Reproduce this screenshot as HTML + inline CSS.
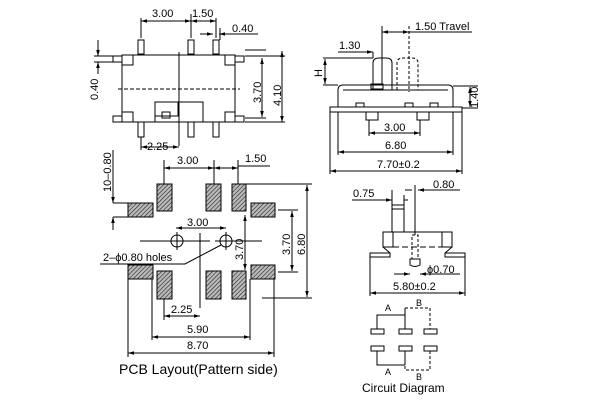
<!DOCTYPE html>
<html><head><meta charset="utf-8"><style>
html,body{margin:0;padding:0;background:#fff;width:600px;height:400px;overflow:hidden}
svg text{font-family:"Liberation Sans",sans-serif;fill:#000}
</style></head><body>
<svg width="600" height="400" viewBox="0 0 600 400" xmlns="http://www.w3.org/2000/svg">
<defs>
<pattern id="h" width="3" height="3" patternUnits="userSpaceOnUse" patternTransform="rotate(45)">
<rect width="3" height="3" fill="#bbb"/><line x1="0" y1="0" x2="0" y2="3" stroke="#222" stroke-width="1.2"/></pattern>
<marker id="a" viewBox="0 0 10 10" refX="10" refY="5" markerWidth="6" markerHeight="6" orient="auto-start-reverse"><path d="M0,2 L10,5 L0,8z" fill="#000"/></marker>
</defs>
<g stroke="#000" stroke-width="1" fill="none">
<!-- TOP VIEW -->
<rect x="122" y="55" width="113" height="67"/>
<line x1="179" y1="52" x2="179" y2="146"/>
<line x1="118" y1="89" x2="240" y2="89" stroke-dasharray="4,2"/>
<g fill="#fff">
<rect x="138" y="40" width="6" height="14"/><rect x="188" y="40" width="6" height="14"/><rect x="213" y="40" width="6" height="14"/>
<rect x="138" y="122" width="6" height="15"/><rect x="188" y="122" width="6" height="15"/><rect x="213" y="122" width="6" height="15"/>
<rect x="113" y="56" width="9" height="6"/><rect x="113" y="116" width="9" height="6"/>
<rect x="235" y="56" width="9" height="6"/><rect x="235" y="116" width="9" height="6"/>
<rect x="122" y="55" width="11" height="10"/><rect x="122" y="112" width="11" height="10"/>
<rect x="225" y="55" width="10" height="10"/><rect x="225" y="112" width="10" height="10"/>
</g>
<rect x="155" y="102" width="48" height="20"/>
<rect x="155" y="102" width="23" height="14"/><rect x="162" y="112" width="8" height="6"/>
<line x1="141" y1="38" x2="141" y2="18"/><line x1="191" y1="38" x2="191" y2="14"/><line x1="216" y1="38" x2="216" y2="18"/>
<line x1="141" y1="21" x2="191" y2="21" marker-start="url(#a)" marker-end="url(#a)"/>
<line x1="191" y1="21" x2="216" y2="21" marker-start="url(#a)" marker-end="url(#a)"/>
<line x1="200" y1="34" x2="213" y2="34" marker-end="url(#a)"/><line x1="219" y1="34" x2="258" y2="34" marker-start="url(#a)"/>
<line x1="220" y1="40" x2="220" y2="28"/>
<line x1="98" y1="40" x2="98" y2="56" marker-end="url(#a)"/><line x1="98" y1="74" x2="98" y2="62" marker-end="url(#a)"/>
<line x1="94" y1="56" x2="113" y2="56"/><line x1="94" y1="62" x2="113" y2="62"/>
<line x1="245" y1="56" x2="285" y2="56"/><line x1="245" y1="122" x2="285" y2="122"/>
<line x1="245" y1="118" x2="266" y2="118"/><line x1="245" y1="50" x2="266" y2="50"/>
<line x1="262" y1="58" x2="262" y2="117" marker-start="url(#a)" marker-end="url(#a)"/>
<line x1="282" y1="51" x2="282" y2="122" marker-start="url(#a)" marker-end="url(#a)"/>
<line x1="141" y1="137" x2="141" y2="150"/>
<line x1="141" y1="147" x2="179" y2="147" marker-start="url(#a)" marker-end="url(#a)"/>
<!-- PCB -->
<g fill="url(#h)" stroke="#000">
<rect x="157" y="184" width="15" height="27"/><rect x="206" y="184" width="15" height="27"/><rect x="232" y="184" width="14" height="27"/>
<rect x="157" y="271" width="15" height="28"/><rect x="206" y="271" width="15" height="28"/><rect x="232" y="271" width="14" height="28"/>
<rect x="128" y="203" width="25" height="14"/><rect x="128" y="265" width="25" height="14"/>
<rect x="251" y="203" width="24" height="14"/><rect x="251" y="265" width="24" height="14"/>
</g>
<line x1="164" y1="184" x2="164" y2="160"/><line x1="214" y1="184" x2="214" y2="160"/><line x1="238" y1="184" x2="238" y2="160"/>
<line x1="164" y1="168" x2="214" y2="168" marker-start="url(#a)" marker-end="url(#a)"/>
<line x1="214" y1="168" x2="238" y2="168" marker-start="url(#a)" marker-end="url(#a)"/>
<line x1="238" y1="166" x2="270" y2="166"/>
<circle cx="177" cy="241" r="6"/><circle cx="226" cy="241" r="6"/>
<line x1="140" y1="241" x2="194" y2="241"/><line x1="177" y1="232" x2="177" y2="250"/>
<line x1="190" y1="241" x2="210" y2="241"/><line x1="200" y1="233" x2="200" y2="308"/>
<line x1="215" y1="241" x2="262" y2="241"/><line x1="226" y1="232" x2="226" y2="250"/>
<line x1="176" y1="228" x2="226" y2="228" marker-start="url(#a)" marker-end="url(#a)"/>
<polyline points="100,264 185,264 221,245"/>
<line x1="245" y1="215" x2="245" y2="270" marker-start="url(#a)" marker-end="url(#a)"/>
<line x1="246" y1="184" x2="312" y2="184"/><line x1="262" y1="298" x2="312" y2="298"/>
<line x1="278" y1="210" x2="298" y2="210"/><line x1="278" y1="272" x2="298" y2="272"/>
<line x1="307" y1="185" x2="307" y2="297" marker-start="url(#a)" marker-end="url(#a)"/>
<line x1="292" y1="211" x2="292" y2="271" marker-start="url(#a)" marker-end="url(#a)"/>
<line x1="113" y1="203" x2="128" y2="203"/><line x1="113" y1="217" x2="128" y2="217"/>
<line x1="113" y1="150" x2="113" y2="203" marker-end="url(#a)"/><line x1="113" y1="230" x2="113" y2="217" marker-end="url(#a)"/>
<line x1="164" y1="299" x2="164" y2="320"/><line x1="152" y1="279" x2="152" y2="340"/><line x1="250" y1="279" x2="250" y2="340"/>
<line x1="128" y1="279" x2="128" y2="357"/><line x1="274" y1="279" x2="274" y2="357"/>
<line x1="164" y1="316" x2="200" y2="316" marker-start="url(#a)" marker-end="url(#a)"/>
<line x1="152" y1="337" x2="250" y2="337" marker-start="url(#a)" marker-end="url(#a)"/>
<line x1="128" y1="353" x2="274" y2="353" marker-start="url(#a)" marker-end="url(#a)"/>
<!-- SIDE VIEW -->
<rect x="330" y="107" width="132" height="5"/>
<path d="M338,107 L338,90 Q338,85 343,85 L448,85 Q453,85 453,90 L453,107"/>
<line x1="343" y1="90" x2="448" y2="90"/>
<path d="M373,90 L373,63 Q373,58 379,58 L386,58 Q392,58 392,63 L392,90"/>
<path d="M397,90 L397,63 Q397,58 403,58 L412,58 Q418,58 418,63 L418,90" stroke-dasharray="3,2"/>
<rect x="371" y="84" width="12" height="5"/>
<path d="M366,112 L366,120 L378,120 L378,112 M417,112 L417,120 L429,120 L429,112"/>
<rect x="356" y="103" width="8" height="4"/><rect x="405" y="103" width="8" height="4"/><rect x="430" y="103" width="8" height="4"/>
<line x1="382" y1="26" x2="382" y2="84"/><line x1="409" y1="26" x2="409" y2="92" stroke-dasharray="3,2"/>
<line x1="382" y1="32" x2="409" y2="32" marker-start="url(#a)" marker-end="url(#a)"/>
<line x1="409" y1="32" x2="472" y2="32"/>
<line x1="338" y1="52" x2="373" y2="52" marker-end="url(#a)"/><line x1="373" y1="52" x2="373" y2="58"/>
<line x1="323" y1="58" x2="373" y2="58"/><line x1="323" y1="85" x2="338" y2="85"/>
<line x1="325" y1="59" x2="325" y2="84" marker-start="url(#a)" marker-end="url(#a)"/>
<line x1="453" y1="86" x2="478" y2="86"/><line x1="462" y1="108" x2="478" y2="108"/>
<line x1="470" y1="87" x2="470" y2="107" marker-start="url(#a)" marker-end="url(#a)"/>
<line x1="369" y1="120" x2="369" y2="136"/><line x1="420" y1="120" x2="420" y2="136"/>
<line x1="369" y1="133" x2="420" y2="133" marker-start="url(#a)" marker-end="url(#a)"/>
<line x1="338" y1="112" x2="338" y2="155"/><line x1="453" y1="112" x2="453" y2="155"/>
<line x1="338" y1="152" x2="453" y2="152" marker-start="url(#a)" marker-end="url(#a)"/>
<line x1="330" y1="112" x2="330" y2="174"/><line x1="462" y1="112" x2="462" y2="174"/>
<line x1="330" y1="171" x2="462" y2="171" marker-start="url(#a)" marker-end="url(#a)"/>
<!-- END VIEW -->
<rect x="392" y="205" width="12" height="27"/><line x1="392" y1="209" x2="404" y2="209"/>
<line x1="383" y1="232" x2="452" y2="232"/>
<rect x="383" y="232" width="10" height="15"/><rect x="442" y="232" width="10" height="15"/>
<path d="M393,247 L442,247" stroke-dasharray="6,3"/>
<line x1="383" y1="247" x2="390" y2="253"/><line x1="452" y1="247" x2="445" y2="253"/>
<rect x="370" y="253" width="20" height="4"/><rect x="445" y="253" width="20" height="4"/>
<rect x="412" y="235" width="6" height="24" stroke-dasharray="3,2"/>
<path d="M410,259 L420,259 L420,265 Q415,268 410,265z"/>
<line x1="352" y1="200" x2="392" y2="200" marker-end="url(#a)"/><line x1="408" y1="200" x2="404" y2="200"/>
<line x1="392" y1="190" x2="392" y2="205"/><line x1="404" y1="195" x2="404" y2="205"/>
<line x1="415" y1="185" x2="415" y2="235"/>
<line x1="405" y1="190" x2="412" y2="190"/><line x1="418" y1="190" x2="460" y2="190" marker-start="url(#a)"/>
<line x1="394" y1="274" x2="410" y2="274" marker-end="url(#a)"/><line x1="420" y1="274" x2="460" y2="274" marker-start="url(#a)"/>
<line x1="370" y1="257" x2="370" y2="296"/><line x1="465" y1="257" x2="465" y2="296"/>
<line x1="370" y1="293" x2="465" y2="293" marker-start="url(#a)" marker-end="url(#a)"/>
<!-- circuit -->
<rect x="371" y="329" width="13" height="5"/><rect x="399" y="329" width="13" height="5"/><rect x="424" y="329" width="13" height="5"/>
<rect x="371" y="346" width="13" height="5"/><rect x="399" y="346" width="13" height="5"/><rect x="424" y="346" width="13" height="5"/>
<polyline points="377,329 377,315 405,315"/><line x1="405" y1="308" x2="405" y2="329"/>
<polyline points="405,308 430,308 430,329" stroke-dasharray="3,2"/>
<polyline points="377,351 377,365 405,365"/><line x1="405" y1="351" x2="405" y2="365"/>
<polyline points="405,351 405,370 430,370 430,351" stroke-dasharray="3,2"/>
</g>
<g font-size="11">
<text x="152" y="17">3.00</text><text x="192" y="17">1.50</text><text x="232" y="32">0.40</text>
<text transform="translate(98,100) rotate(-90)">0.40</text>
<text transform="translate(261,103) rotate(-90)">3.70</text>
<text transform="translate(281,106) rotate(-90)">4.10</text>
<text x="147" y="150">2.25</text>
<text transform="translate(111,192) rotate(-90)">10–0.80</text>
<text x="177" y="164">3.00</text><text x="245" y="162">1.50</text>
<text x="187" y="226">3.00</text>
<text x="103" y="261">2–ϕ0.80 holes</text>
<text transform="translate(243,260) rotate(-90)">3.70</text>
<text transform="translate(290,255) rotate(-90)">3.70</text>
<text transform="translate(305,255) rotate(-90)">6.80</text>
<text x="171" y="313">2.25</text><text x="187" y="333">5.90</text><text x="187" y="349">8.70</text>
<text x="415" y="30">1.50 Travel</text><text x="339" y="49">1.30</text>
<text transform="translate(322,77) rotate(-90)">H</text>
<text transform="translate(478,108) rotate(-90)">1.40</text>
<text x="384" y="131">3.00</text><text x="385" y="149">6.80</text><text x="377" y="168">7.70±0.2</text>
<text x="353" y="197">0.75</text><text x="433" y="188">0.80</text>
<text x="427" y="273">ϕ0.70</text><text x="393" y="290">5.80±0.2</text>
<text x="385" y="311" font-size="9">A</text><text x="416" y="306" font-size="9">B</text>
<text x="385" y="375" font-size="9">A</text><text x="416" y="380" font-size="9">B</text>
</g>
<text x="119" y="374" font-size="14">PCB Layout(Pattern side)</text>
<text x="362" y="392" font-size="12">Circuit Diagram</text>
</svg>
</body></html>
